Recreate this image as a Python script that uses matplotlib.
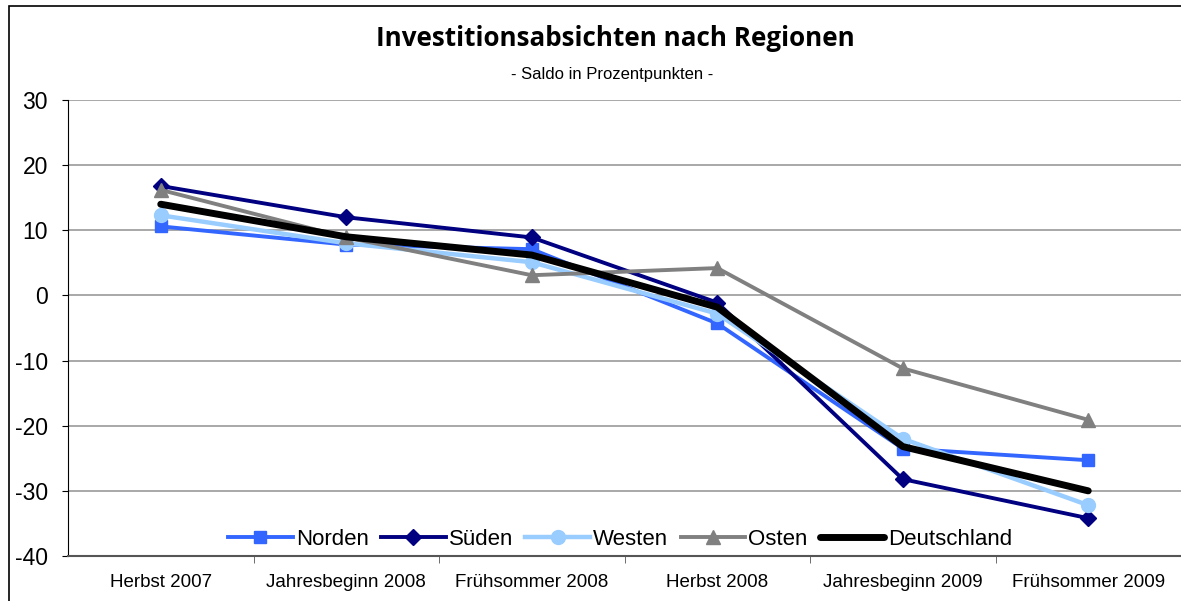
import matplotlib
matplotlib.use("Agg")
import matplotlib.pyplot as plt
from matplotlib.patches import Rectangle
import numpy as np

categories = ["Herbst 2007", "Jahresbeginn 2008", "Frühsommer 2008",
              "Herbst 2008", "Jahresbeginn 2009", "Frühsommer 2009"]
norden = [10.6, 7.8, 7.1, -4.3, -23.5, -25.3]
sueden = [16.8, 12.0, 8.9, -1.1, -28.2, -34.2]
westen = [12.3, 8.0, 5.1, -2.8, -22.0, -32.2]
osten = [16.2, 8.9, 3.1, 4.2, -11.2, -19.1]
deutschland = [14.0, 9.0, 6.2, -1.8, -23.2, -30.0]
yticks = [-40, -30, -20, -10, 0, 10, 20, 30]

plt.rcParams['font.family'] = ['Liberation Sans', 'DejaVu Sans']

fig = plt.figure(figsize=(11.81, 6.01), dpi=100)
ax = fig.add_axes([68/1181, 1-556/601, 1-68/1181, (556-100)/601])

x = np.arange(len(categories))
ax.plot(x, norden, color="#3366FF", lw=2.8, marker="s", ms=9, label="Norden", zorder=3)
ax.plot(x, sueden, color="#000080", lw=2.8, marker="D", ms=8, label="Süden", zorder=3)
ax.plot(x, westen, color="#99CCFF", lw=3.2, marker="o", ms=10, label="Westen", zorder=3)
ax.plot(x, osten, color="#808080", lw=2.8, marker="^", ms=10, label="Osten", zorder=3)
ax.plot(x, deutschland, color="black", lw=5, label="Deutschland", zorder=4,
        solid_capstyle="round")

ax.set_xlim(-0.5, len(categories) - 0.5)
ax.set_ylim(-40, 30)
ax.set_yticks(yticks)
ax.set_yticklabels([str(v) for v in yticks], fontsize=16.5)
ax.yaxis.grid(True, color="#999999", lw=1.2)
ax.set_axisbelow(True)
ax.set_xticks(x)
ax.set_xticklabels(categories, fontsize=13.5)
ax.set_xticks(np.arange(0.5, len(categories) - 0.5, 1), minor=True)
ax.tick_params(axis="x", which="major", length=0, pad=13)
ax.tick_params(axis="x", which="minor", length=5, color="#555555")
ax.tick_params(axis="y", length=4.5, pad=10)
for s in ["top", "right"]:
    ax.spines[s].set_visible(False)
ax.spines["left"].set_color("black")
ax.spines["bottom"].set_color("#555555")
ax.spines["bottom"].set_linewidth(1.5)

leg = ax.legend(loc="lower center", ncol=5, frameon=False, fontsize=16,
                bbox_to_anchor=(0.496, -0.015), handlelength=2.9, handletextpad=0.15,
                columnspacing=0.55, borderaxespad=0.2)

fig.text(0.521, 1-39/601, "Investitionsabsichten nach Regionen", ha="center", va="center",
         fontsize=18.7, fontweight="bold", family=["Open Sans", "DejaVu Sans"])
fig.text(0.518, 1-75/601, "- Saldo in Prozentpunkten -", ha="center", va="center", fontsize=12)

fig.patches.append(Rectangle((9/1181, -0.1), 1.2, 1-6/601 + 0.1, transform=fig.transFigure,
                             fill=False, edgecolor="black", lw=1.2))

fig.savefig("out.png", dpi=100)
